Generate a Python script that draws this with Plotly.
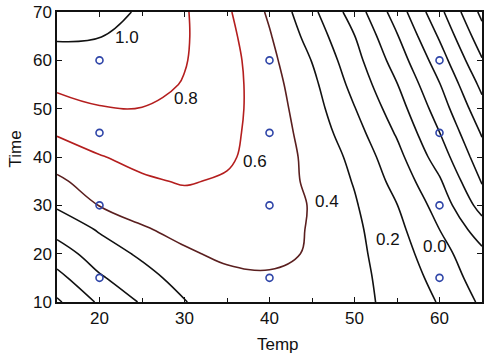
import plotly.graph_objects as go

temp = [15, 20, 25, 30, 35, 40, 45, 50, 55, 60, 65]
time = [10, 15, 20, 25, 30, 35, 40, 45, 50, 55, 60, 65, 70]

# Response values (rows = time, columns = temp), estimated from the contour positions
z_rows = [
    [-0.43, -0.17, 0.02, 0.19, 0.34, 0.37, 0.35, 0.257, 0.142, -0.013, -0.233],       # 10
    [-0.26, -0.023, 0.124, 0.28, 0.355, 0.38, 0.37, 0.258, 0.119, -0.065, -0.302],    # 15
    [-0.094, 0.098, 0.235, 0.375, 0.4375, 0.44, 0.385, 0.25, 0.091, -0.127, -0.356],  # 20
    [0.068, 0.219, 0.382, 0.452, 0.475, 0.47, 0.386, 0.241, 0.054, -0.2, -0.5],       # 25
    [0.225, 0.406, 0.475, 0.531, 0.527, 0.49, 0.388, 0.219, 0.004, -0.278, -0.679],   # 30
    [0.364, 0.498, 0.574, 0.615, 0.578, 0.50, 0.361, 0.187, -0.067, -0.375, -0.817],  # 35
    [0.494, 0.59, 0.653, 0.647, 0.63, 0.501, 0.351, 0.147, -0.1375, -0.496, -0.917],  # 40
    [0.618, 0.69, 0.724, 0.69, 0.65, 0.503, 0.32, 0.08, -0.222, -0.597, -1.018],      # 45
    [0.73, 0.79, 0.796, 0.73, 0.67, 0.494, 0.287, 0.008, -0.307, -0.695, -1.132],     # 50
    [0.836, 0.865, 0.86, 0.79, 0.68, 0.479, 0.249, -0.063, -0.393, -0.791, -1.25],    # 55
    [0.929, 0.935, 0.91, 0.81, 0.68, 0.453, 0.194, -0.128, -0.489, -0.903, -1.385],   # 60
    [1.02, 1.005, 0.95, 0.82, 0.66, 0.416, 0.121, -0.196, -0.586, -1.023, -1.519],    # 65
    [1.08, 1.06, 0.98, 0.82, 0.63, 0.37, 0.048, -0.292, -0.692, -1.145, -1.65],       # 70
]

# Design points (blue circles)
pts_temp = [20, 20, 20, 20, 40, 40, 40, 40, 60, 60, 60, 60]
pts_time = [15, 30, 45, 60, 15, 30, 45, 60, 15, 30, 45, 60]

# Contour labels
label_text = ["1.0", "0.8", "0.6", "0.4", "0.2", "0.0"]
label_temp = [23.2, 30.2, 38.3, 46.8, 53.9, 59.5]
label_time = [64.8, 52.2, 39.0, 30.7, 22.9, 21.4]

# Contour level groups: (start, end, colour)
level_groups = [
    (-2.0, 0.25, "#111111"),
    (0.4, 0.45, "#5a1f1f"),
    (0.6, 0.85, "#b41e1e"),
    (1.0, 1.05, "#111111"),
]

FONT = "Liberation Sans, Arial, Helvetica, sans-serif"

fig = go.Figure()
for start, end, col in level_groups:
    fig.add_trace(go.Contour(
        x=temp, y=time, z=z_rows,
        autocontour=False,
        contours=dict(start=start, end=end, size=0.2, coloring="none", showlabels=False),
        line=dict(color=col, width=1.6, smoothing=1.1),
        showscale=False, hoverinfo="skip",
    ))

fig.add_trace(go.Scatter(
    x=pts_temp, y=pts_time, mode="markers",
    marker=dict(symbol="circle-open", size=7, color="#2f45a8", line=dict(width=1.6, color="#2f45a8")),
    showlegend=False, hoverinfo="skip",
))

for txt, tx, ty in zip(label_text, label_temp, label_time):
    fig.add_annotation(x=tx, y=ty, text=txt, showarrow=False,
                       font=dict(family=FONT, size=17, color="#111111"),
                       xanchor="center", yanchor="middle")

fig.add_annotation(xref="paper", yref="paper", x=0.52, y=-0.146, text="Temp",
                   showarrow=False, font=dict(family=FONT, size=17, color="#111111"),
                   xanchor="center", yanchor="middle")
fig.add_annotation(xref="paper", yref="paper", x=-0.098, y=0.527, text="Time",
                   textangle=-90, showarrow=False,
                   font=dict(family=FONT, size=17, color="#111111"),
                   xanchor="center", yanchor="middle")

axis_common = dict(
    showgrid=False, zeroline=False, showline=True, linecolor="#111111", linewidth=1.5,
    mirror="allticks", ticks="inside", ticklen=5, tickwidth=1, tickcolor="#111111",
    tickfont=dict(family=FONT, size=17, color="#111111"),
)
fig.update_xaxes(range=[15, 65], tick0=10, dtick=10,
                 minor=dict(dtick=5, ticks="inside", ticklen=4, tickcolor="#111111"),
                 **axis_common)
fig.update_yaxes(range=[10, 70], tick0=10, dtick=10, **axis_common)

fig.update_layout(
    width=485, height=358,
    margin=dict(l=57, r=1, t=12, b=56, pad=0),
    paper_bgcolor="white", plot_bgcolor="white",
    showlegend=False,
)

fig.write_html("out.html")
